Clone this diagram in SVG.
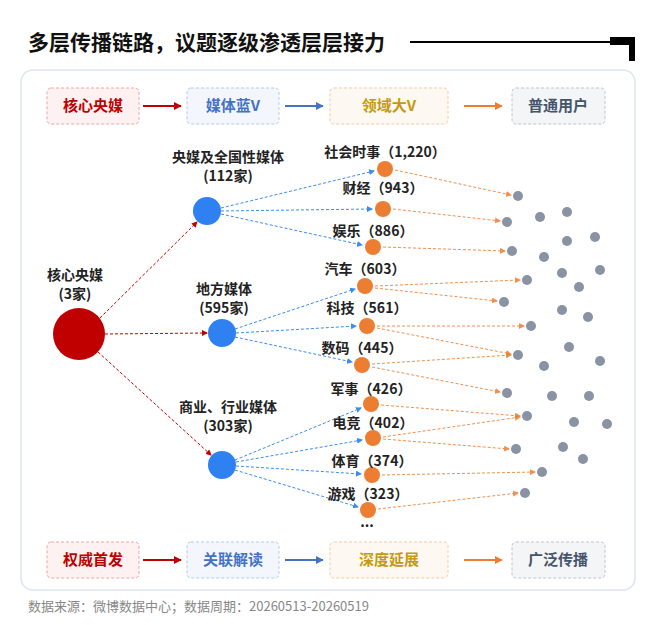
<svg xmlns="http://www.w3.org/2000/svg" width="650" height="625" viewBox="0 0 650 625">
<defs>
<style>
text{font-family:"Noto Sans CJK SC","Noto Sans",sans-serif;}
.t{font-weight:bold;font-size:14px;fill:#222;text-anchor:middle;}
.bx{font-weight:bold;font-size:15px;text-anchor:middle;}
.rl{stroke:#C00000;stroke-width:1;stroke-dasharray:3 2;fill:none;}
.bl{stroke:#3A8DF0;stroke-width:1;stroke-dasharray:3 2;fill:none;}
.ol{stroke:#ED7D31;stroke-width:1;stroke-dasharray:3 2;fill:none;opacity:.85;}
.gd{fill:#8A93A3;}
.on{fill:#ED7D31;}
</style>
<marker id="mr" viewBox="0 0 6 6" refX="5" refY="3" markerWidth="6" markerHeight="6" orient="auto"><path d="M0,0L6,3L0,6z" fill="#C00000"/></marker>
<marker id="mb" viewBox="0 0 6 6" refX="5" refY="3" markerWidth="6" markerHeight="6" orient="auto"><path d="M0,0L6,3L0,6z" fill="#3A8DF0"/></marker>
<marker id="mo" viewBox="0 0 6 6" refX="5" refY="3" markerWidth="6" markerHeight="6" orient="auto"><path d="M0,0L6,3L0,6z" fill="#ED7D31"/></marker>
<marker id="ar" viewBox="0 0 10 10" refX="9" refY="5" markerWidth="4" markerHeight="4" orient="auto"><path d="M0,0L10,5L0,10z" fill="#C00000"/></marker>
<marker id="ab" viewBox="0 0 10 10" refX="9" refY="5" markerWidth="4" markerHeight="4" orient="auto"><path d="M0,0L10,5L0,10z" fill="#4472C4"/></marker>
<marker id="ao" viewBox="0 0 10 10" refX="9" refY="5" markerWidth="4" markerHeight="4" orient="auto"><path d="M0,0L10,5L0,10z" fill="#ED7D31"/></marker>
</defs>
<rect width="650" height="625" fill="#fff"/>
<text x="28" y="50" font-size="21" font-weight="bold" fill="#111">多层传播链路，议题逐级渗透层层接力</text>
<line x1="410" y1="42" x2="632" y2="42" stroke="#000" stroke-width="2"/>
<rect x="610" y="37" width="25" height="8" fill="#000"/>
<rect x="629" y="37" width="6" height="24" fill="#000"/>
<rect x="21" y="70" width="614" height="520" rx="12" fill="#fff" stroke="#DDE4F0" stroke-width="1.5"/>

<g id="flow-top">
<rect x="47" y="88" width="92" height="36" rx="4" fill="#FDF1F1" stroke="#E8A8A8" stroke-dasharray="3 2"/>
<text class="bx" x="93" y="111" fill="#C00000">核心央媒</text>
<rect x="187" y="88" width="92" height="36" rx="4" fill="#F3F7FD" stroke="#B5C9E8" stroke-dasharray="3 2"/>
<text class="bx" x="233" y="111" fill="#4472C4">媒体蓝V</text>
<rect x="330" y="88" width="118" height="36" rx="4" fill="#FEF8F2" stroke="#F3C9A6" stroke-dasharray="3 2"/>
<text class="bx" x="389" y="111" fill="#C59A10">领域大V</text>
<rect x="512" y="88" width="93" height="36" rx="4" fill="#F4F5F7" stroke="#BFC3CA" stroke-dasharray="3 2"/>
<text class="bx" x="558" y="111" fill="#44546A">普通用户</text>
<line x1="143" y1="106" x2="181" y2="106" stroke="#C00000" stroke-width="2" marker-end="url(#ar)"/>
<line x1="285" y1="106" x2="323" y2="106" stroke="#4472C4" stroke-width="2" marker-end="url(#ab)"/>
<line x1="464" y1="106" x2="502" y2="106" stroke="#ED7D31" stroke-width="2" marker-end="url(#ao)"/>
</g>
<g id="flow-bottom">
<rect x="47" y="542" width="92" height="36" rx="4" fill="#FDF1F1" stroke="#E8A8A8" stroke-dasharray="3 2"/>
<text class="bx" x="93" y="565" fill="#C00000">权威首发</text>
<rect x="187" y="542" width="92" height="36" rx="4" fill="#F3F7FD" stroke="#B5C9E8" stroke-dasharray="3 2"/>
<text class="bx" x="233" y="565" fill="#4472C4">关联解读</text>
<rect x="330" y="542" width="118" height="36" rx="4" fill="#FEF8F2" stroke="#F3C9A6" stroke-dasharray="3 2"/>
<text class="bx" x="389" y="565" fill="#C59A10">深度延展</text>
<rect x="512" y="542" width="93" height="36" rx="4" fill="#F4F5F7" stroke="#BFC3CA" stroke-dasharray="3 2"/>
<text class="bx" x="558" y="565" fill="#44546A">广泛传播</text>
<line x1="143" y1="560" x2="181" y2="560" stroke="#C00000" stroke-width="2" marker-end="url(#ar)"/>
<line x1="285" y1="560" x2="323" y2="560" stroke="#4472C4" stroke-width="2" marker-end="url(#ab)"/>
<line x1="464" y1="560" x2="502" y2="560" stroke="#ED7D31" stroke-width="2" marker-end="url(#ao)"/>
</g>

<g id="connectors">
<line class="rl" x1="100" y1="318" x2="197" y2="222" marker-end="url(#mr)"/>
<line class="rl" x1="105" y1="334" x2="207" y2="333" marker-end="url(#mr)"/>
<line class="rl" x1="98" y1="352" x2="211" y2="455" marker-end="url(#mr)"/>
<line class="bl" x1="221" y1="208" x2="374" y2="171" marker-end="url(#mb)"/>
<line class="bl" x1="221" y1="211" x2="372" y2="209" marker-end="url(#mb)"/>
<line class="bl" x1="221" y1="214" x2="362" y2="245" marker-end="url(#mb)"/>
<line class="bl" x1="235" y1="329" x2="355" y2="289" marker-end="url(#mb)"/>
<line class="bl" x1="236" y1="333" x2="356" y2="326" marker-end="url(#mb)"/>
<line class="bl" x1="235" y1="337" x2="352" y2="362" marker-end="url(#mb)"/>
<line class="bl" x1="235" y1="460" x2="361" y2="408" marker-end="url(#mb)"/>
<line class="bl" x1="236" y1="462" x2="362" y2="440" marker-end="url(#mb)"/>
<line class="bl" x1="236" y1="466" x2="361" y2="474" marker-end="url(#mb)"/>
<line class="bl" x1="235" y1="470" x2="358" y2="507" marker-end="url(#mb)"/>
<line class="ol" x1="395" y1="170" x2="511" y2="195" marker-end="url(#mo)"/>
<line class="ol" x1="393" y1="209" x2="500" y2="221" marker-end="url(#mo)"/>
<line class="ol" x1="383" y1="247" x2="505" y2="251" marker-end="url(#mo)"/>
<line class="ol" x1="375" y1="286" x2="520" y2="280" marker-end="url(#mo)"/>
<line class="ol" x1="375" y1="288" x2="497" y2="301" marker-end="url(#mo)"/>
<line class="ol" x1="377" y1="326" x2="524" y2="326" marker-end="url(#mo)"/>
<line class="ol" x1="377" y1="328" x2="511" y2="354" marker-end="url(#mo)"/>
<line class="ol" x1="372" y1="364" x2="511" y2="355" marker-end="url(#mo)"/>
<line class="ol" x1="372" y1="367" x2="500" y2="392" marker-end="url(#mo)"/>
<line class="ol" x1="381" y1="405" x2="520" y2="416" marker-end="url(#mo)"/>
<line class="ol" x1="383" y1="437" x2="520" y2="417" marker-end="url(#mo)"/>
<line class="ol" x1="383" y1="439" x2="509" y2="449" marker-end="url(#mo)"/>
<line class="ol" x1="382" y1="475" x2="535" y2="472" marker-end="url(#mo)"/>
<line class="ol" x1="378" y1="509" x2="518" y2="493" marker-end="url(#mo)"/>
</g>

<g id="core"><circle cx="79" cy="334" r="26" fill="#C00000"/>
<text class="t" x="75" y="280">核心央媒</text><text class="t" x="75" y="299">(3家)</text></g>
<g id="n-central"><circle cx="207" cy="211" r="14" fill="#2F80F0"/>
<text class="t" x="228" y="162">央媒及全国性媒体</text><text class="t" x="228" y="181">(112家)</text></g>
<g id="n-local"><circle cx="222" cy="333" r="14" fill="#2F80F0"/>
<text class="t" x="224" y="294">地方媒体</text><text class="t" x="224" y="313">(595家)</text></g>
<g id="n-biz"><circle cx="222" cy="465" r="14" fill="#2F80F0"/>
<text class="t" x="228" y="412">商业、行业媒体</text><text class="t" x="228" y="431">(303家)</text></g>

<g id="n-shehui"><circle class="on" cx="385" cy="169" r="8"/><text class="t" x="385" y="157">社会时事（1,220）</text></g>
<g id="n-caijing"><circle class="on" cx="383" cy="209" r="8"/><text class="t" x="383" y="193">财经（943）</text></g>
<g id="n-yule"><circle class="on" cx="373" cy="247" r="8"/><text class="t" x="373" y="236">娱乐（886）</text></g>
<g id="n-qiche"><circle class="on" cx="365" cy="286" r="8"/><text class="t" x="365" y="274">汽车（603）</text></g>
<g id="n-keji"><circle class="on" cx="367" cy="326" r="8"/><text class="t" x="367" y="313">科技（561）</text></g>
<g id="n-shuma"><circle class="on" cx="362" cy="365" r="8"/><text class="t" x="362" y="353">数码（445）</text></g>
<g id="n-junshi"><circle class="on" cx="371" cy="404" r="8"/><text class="t" x="371" y="394">军事（426）</text></g>
<g id="n-dianjing"><circle class="on" cx="373" cy="438" r="8"/><text class="t" x="373" y="428">电竞（402）</text></g>
<g id="n-tiyu"><circle class="on" cx="372" cy="475" r="8"/><text class="t" x="372" y="466">体育（374）</text></g>
<g id="n-youxi"><circle class="on" cx="368" cy="510" r="8"/><text class="t" x="368" y="499">游戏（323）</text></g>
<text class="t" x="367" y="527">...</text>

<g id="users">
<circle class="gd" cx="518" cy="196" r="5"/><circle class="gd" cx="507" cy="222" r="5"/><circle class="gd" cx="540" cy="217" r="5"/><circle class="gd" cx="567" cy="212" r="5"/>
<circle class="gd" cx="512" cy="251" r="5"/><circle class="gd" cx="567" cy="241" r="5"/><circle class="gd" cx="595" cy="237" r="5"/><circle class="gd" cx="544" cy="257" r="5"/>
<circle class="gd" cx="527" cy="280" r="5"/><circle class="gd" cx="562" cy="273" r="5"/><circle class="gd" cx="600" cy="270" r="5"/><circle class="gd" cx="504" cy="302" r="5"/>
<circle class="gd" cx="579" cy="287" r="5"/><circle class="gd" cx="562" cy="310" r="5"/><circle class="gd" cx="588" cy="317" r="5"/><circle class="gd" cx="531" cy="326" r="5"/>
<circle class="gd" cx="518" cy="355" r="5"/><circle class="gd" cx="569" cy="347" r="5"/><circle class="gd" cx="544" cy="366" r="5"/><circle class="gd" cx="600" cy="361" r="5"/>
<circle class="gd" cx="507" cy="393" r="5"/><circle class="gd" cx="552" cy="396" r="5"/><circle class="gd" cx="589" cy="396" r="5"/><circle class="gd" cx="527" cy="416" r="5"/>
<circle class="gd" cx="574" cy="422" r="5"/><circle class="gd" cx="607" cy="424" r="5"/><circle class="gd" cx="516" cy="449" r="5"/><circle class="gd" cx="563" cy="447" r="5"/>
<circle class="gd" cx="583" cy="459" r="5"/><circle class="gd" cx="542" cy="472" r="5"/><circle class="gd" cx="525" cy="493" r="5"/>
</g>
<text x="28" y="611" font-size="13" fill="#888">数据来源：微博数据中心；数据周期：20260513-20260519</text>
</svg>
